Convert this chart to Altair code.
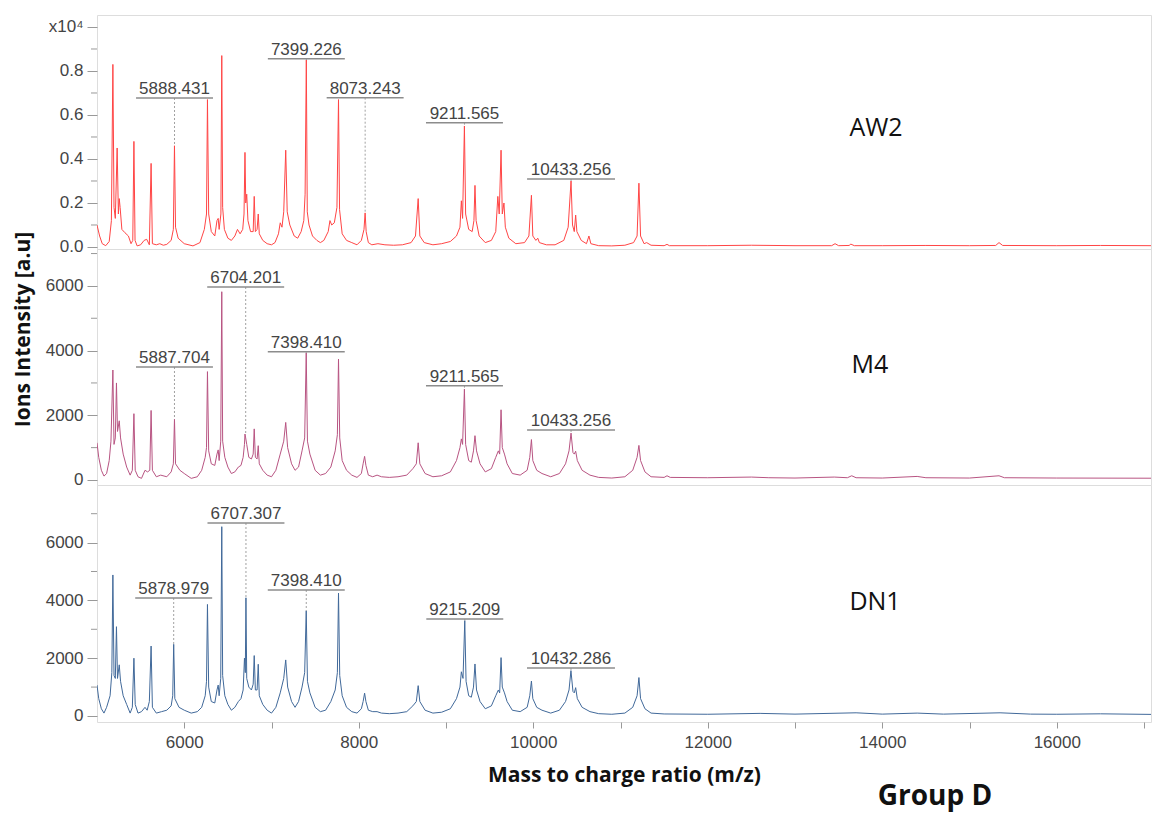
import altair as alt
import pandas as pd

# ---------------- data ----------------
X_DOMAIN = [5000, 17080]
X_TICKS = [6000, 7000, 8000, 9000, 10000, 11000, 12000, 13000, 14000, 15000, 16000, 17000]

# (m/z, intensity a.u.)
AW2_SPECTRUM = [
    (5000, 1000), (5030, 500), (5060, 150), (5100, 60), (5140, 250), (5165, 1200), (5182, 8300),
    (5195, 1800), (5210, 1300), (5231, 4500), (5245, 1500), (5255, 2200), (5265, 1800), (5285, 800),
    (5320, 650), (5360, 500), (5390, 150), (5410, 300), (5423, 4800), (5436, 300), (5460, 50),
    (5500, 100), (5540, 300), (5570, 350), (5600, 100), (5620, 3800), (5635, 150), (5680, 100),
    (5720, 150), (5760, 80), (5800, 120), (5850, 300), (5875, 800), (5888, 4600), (5900, 900),
    (5930, 400), (6000, 150), (6100, 50), (6180, 200), (6230, 800), (6255, 1500), (6266, 6700),
    (6280, 1500), (6310, 700), (6350, 500), (6375, 1200), (6389, 1300), (6400, 800), (6420, 1500),
    (6430, 8700), (6440, 1800), (6460, 800), (6500, 400), (6540, 300), (6580, 500), (6610, 800),
    (6640, 600), (6670, 800), (6685, 1500), (6696, 4300), (6705, 2000), (6716, 2400), (6730, 1200),
    (6760, 700), (6790, 700), (6802, 2300), (6815, 700), (6835, 800), (6848, 1500), (6860, 600),
    (6900, 300), (6950, 150), (7000, 100), (7040, 200), (7080, 600), (7100, 1100), (7120, 900),
    (7140, 1600), (7163, 4400), (7180, 1600), (7210, 1000), (7260, 500), (7300, 400), (7340, 700),
    (7370, 1200), (7385, 2400), (7399, 8500), (7410, 1600), (7430, 1000), (7470, 500), (7520, 300),
    (7560, 200), (7600, 300), (7650, 700), (7670, 1200), (7690, 1000), (7720, 1100), (7750, 1800),
    (7768, 6700), (7780, 1700), (7810, 600), (7860, 300), (7920, 200), (7980, 100), (8030, 300),
    (8060, 800), (8073, 1550), (8085, 700), (8110, 200), (8150, 100), (8220, 150), (8300, 100),
    (8400, 80), (8500, 100), (8600, 200), (8650, 500), (8681, 2200), (8700, 500), (8750, 200),
    (8850, 100), (8950, 150), (9050, 250), (9120, 500), (9160, 900), (9176, 2100), (9190, 1300),
    (9211, 5500), (9225, 1500), (9260, 800), (9300, 700), (9320, 1200), (9332, 2800), (9345, 1200),
    (9380, 500), (9450, 200), (9520, 300), (9570, 700), (9594, 2300), (9610, 1500), (9631, 4400),
    (9645, 1500), (9664, 2000), (9680, 900), (9720, 400), (9800, 150), (9900, 200), (9950, 500),
    (9979, 2350), (9995, 500), (10030, 300), (10052, 400), (10070, 200), (10150, 100), (10250, 100),
    (10350, 300), (10400, 900), (10433, 3000), (10450, 1000), (10470, 700), (10486, 1450),
    (10500, 700), (10550, 300), (10610, 150), (10638, 500), (10660, 150), (10750, 60), (10900, 50),
    (11050, 80), (11150, 200), (11190, 500), (11211, 2900), (11230, 500), (11270, 150), (11300, 200),
    (11350, 80), (11500, 60), (11533, 120), (11560, 60), (12000, 60), (12500, 80), (13000, 60),
    (13420, 60), (13459, 150), (13500, 60), (13620, 70), (13640, 130), (13680, 60), (14000, 60),
    (14500, 70), (15000, 60), (15300, 70), (15338, 200), (15380, 70), (16000, 60), (16500, 70),
    (17080, 60),
]

M4_SPECTRUM = [
    (5000, 1150), (5020, 700), (5050, 300), (5080, 120), (5110, 200), (5140, 600), (5160, 1200),
    (5182, 3400), (5195, 1100), (5210, 1300), (5223, 3000), (5235, 1500), (5255, 1830), (5270, 1300),
    (5300, 800), (5340, 400), (5380, 150), (5405, 300), (5423, 2050), (5438, 300), (5470, 100),
    (5510, 50), (5550, 300), (5580, 250), (5605, 300), (5620, 2150), (5635, 300), (5680, 100),
    (5730, 150), (5800, 100), (5850, 250), (5875, 500), (5888, 1880), (5900, 500), (5950, 300),
    (6000, 200), (6080, 50), (6150, 100), (6200, 300), (6240, 700), (6255, 1000), (6266, 3350),
    (6280, 900), (6310, 500), (6350, 450), (6375, 800), (6389, 930), (6400, 600), (6418, 1200),
    (6430, 5820), (6440, 1200), (6465, 700), (6500, 400), (6540, 200), (6580, 250), (6620, 400),
    (6650, 450), (6675, 700), (6690, 1100), (6696, 1420), (6704, 1300), (6716, 1100), (6740, 700),
    (6770, 650), (6790, 800), (6802, 1580), (6815, 700), (6835, 650), (6848, 1060), (6860, 500),
    (6900, 300), (6950, 150), (7000, 100), (7050, 300), (7100, 800), (7140, 1200), (7163, 1780),
    (7185, 1000), (7230, 500), (7270, 300), (7310, 400), (7350, 900), (7380, 1300), (7398, 3930),
    (7412, 1200), (7440, 800), (7500, 300), (7560, 150), (7620, 200), (7680, 400), (7730, 900),
    (7755, 1400), (7768, 3740), (7782, 1300), (7810, 600), (7860, 300), (7920, 150), (7980, 80),
    (8030, 200), (8050, 500), (8067, 730), (8082, 450), (8110, 150), (8160, 100), (8210, 150),
    (8260, 100), (8350, 80), (8450, 100), (8550, 150), (8620, 350), (8660, 500), (8681, 1150),
    (8700, 500), (8760, 200), (8850, 100), (8950, 130), (9050, 250), (9120, 600), (9160, 1000),
    (9176, 1270), (9190, 1100), (9211, 2810), (9225, 1100), (9260, 600), (9290, 550), (9315, 900),
    (9332, 1370), (9350, 900), (9390, 500), (9450, 250), (9520, 350), (9570, 700), (9600, 900),
    (9615, 800), (9631, 2170), (9645, 1000), (9670, 800), (9700, 500), (9760, 200), (9850, 150),
    (9930, 300), (9960, 700), (9979, 1250), (9995, 600), (10040, 300), (10100, 200), (10200, 100),
    (10300, 200), (10370, 500), (10410, 900), (10433, 1450), (10455, 850), (10470, 800),
    (10486, 890), (10505, 600), (10560, 300), (10650, 150), (10750, 80), (10900, 60), (11050, 100),
    (11140, 300), (11190, 700), (11211, 1070), (11230, 600), (11280, 250), (11350, 100),
    (11500, 80), (11533, 130), (11570, 80), (12000, 70), (12500, 90), (12700, 70), (13000, 60),
    (13450, 90), (13600, 70), (13650, 130), (13700, 70), (14000, 60), (14400, 110), (14500, 70),
    (15000, 60), (15338, 130), (15400, 70), (16000, 60), (17080, 55),
]

DN1_SPECTRUM = [
    (5000, 1070), (5020, 600), (5050, 250), (5080, 100), (5110, 300), (5150, 700), (5170, 1500),
    (5182, 4880), (5195, 1400), (5210, 1300), (5223, 3090), (5235, 1300), (5255, 1770), (5270, 1200),
    (5300, 700), (5340, 400), (5380, 100), (5405, 300), (5423, 2000), (5438, 400), (5470, 100),
    (5510, 150), (5550, 300), (5575, 200), (5600, 500), (5620, 2420), (5635, 300), (5680, 100),
    (5740, 150), (5800, 200), (5850, 350), (5868, 700), (5879, 2480), (5892, 600), (5940, 300),
    (6000, 200), (6080, 100), (6150, 150), (6200, 300), (6240, 700), (6255, 1200), (6266, 3860),
    (6280, 1000), (6310, 500), (6350, 450), (6375, 900), (6389, 1070), (6400, 700), (6418, 1300),
    (6430, 6550), (6440, 1400), (6465, 700), (6500, 400), (6540, 200), (6580, 300), (6620, 500),
    (6650, 600), (6675, 900), (6690, 2000), (6700, 1500), (6707, 4090), (6716, 1300), (6740, 1000),
    (6770, 900), (6790, 1100), (6802, 2090), (6815, 900), (6835, 900), (6848, 1790), (6860, 700),
    (6900, 400), (6950, 200), (7000, 100), (7050, 300), (7100, 800), (7140, 1300), (7163, 1940),
    (7185, 1000), (7230, 500), (7270, 300), (7310, 500), (7350, 1000), (7380, 1500), (7398, 3640),
    (7412, 1200), (7440, 800), (7500, 300), (7560, 150), (7620, 200), (7680, 500), (7730, 900),
    (7755, 1500), (7768, 4250), (7782, 1400), (7810, 700), (7860, 300), (7920, 150), (7980, 100),
    (8030, 250), (8050, 500), (8067, 790), (8082, 500), (8110, 200), (8160, 150), (8210, 150),
    (8260, 100), (8350, 80), (8450, 100), (8550, 150), (8620, 350), (8660, 500), (8681, 1050),
    (8700, 500), (8760, 200), (8850, 100), (8950, 130), (9050, 250), (9120, 600), (9160, 1000),
    (9176, 1530), (9195, 1300), (9215, 3300), (9230, 1200), (9260, 700), (9290, 650), (9315, 1000),
    (9332, 1800), (9350, 900), (9390, 500), (9450, 250), (9520, 350), (9570, 700), (9600, 900),
    (9615, 800), (9631, 2020), (9645, 1000), (9670, 800), (9700, 500), (9760, 200), (9850, 150),
    (9930, 300), (9960, 700), (9979, 1210), (9995, 600), (10040, 300), (10100, 200), (10200, 100),
    (10300, 200), (10370, 500), (10410, 900), (10432, 1570), (10455, 850), (10470, 800),
    (10486, 980), (10505, 600), (10560, 300), (10650, 150), (10750, 80), (10900, 60), (11050, 100),
    (11140, 300), (11190, 700), (11211, 1330), (11230, 600), (11280, 250), (11350, 100),
    (11500, 70), (12000, 60), (12600, 90), (13000, 65), (13700, 110), (14000, 65), (14400, 100),
    (14700, 65), (15350, 110), (15700, 65), (16000, 60), (16500, 75), (17080, 55),
]

# peak annotations: position, text, underline level, top of the marked peak
AW2_ANN_MZ = [5888.431, 7399.226, 8073.243, 9211.565, 10433.256]
AW2_ANN_TEXT = ["5888.431", "7399.226", "8073.243", "9211.565", "10433.256"]
AW2_ANN_Y = [6773, 8559, 6786, 5650, 3091]
AW2_ANN_PEAK = [4600, 8500, 1550, 5500, 3000]

M4_ANN_MZ = [5887.704, 6704.201, 7398.410, 9211.565, 10433.256]
M4_ANN_TEXT = ["5887.704", "6704.201", "7398.410", "9211.565", "10433.256"]
M4_ANN_Y = [3493, 5966, 3966, 2915, 1546]
M4_ANN_PEAK = [1880, 1400, 3930, 2810, 1450]

DN1_ANN_MZ = [5878.979, 6707.307, 7398.410, 9215.209, 10432.286]
DN1_ANN_TEXT = ["5878.979", "6707.307", "7398.410", "9215.209", "10432.286"]
DN1_ANN_Y = [4083, 6678, 4360, 3356, 1661]
DN1_ANN_PEAK = [2480, 4090, 3640, 3300, 1570]

AW2_MAJOR = [0, 2000, 4000, 6000, 8000, 10000]
AW2_MINOR = [1000, 3000, 5000, 7000, 9000]
M4_MAJOR = [0, 2000, 4000, 6000]
M4_MINOR = [1000, 3000, 5000, 7000]
DN1_MAJOR = [0, 2000, 4000, 6000]
DN1_MINOR = [1000, 3000, 5000, 7000]

# ---------------- chart ----------------
FONT = "Liberation Sans"
TITLE_FONT = "Open Sans"
PLOT_W = 1054
AXIS_GREY = "#999999"


def panel(points, color, ann, sample, sample_xy, ydomain, height, major, minor,
          label_expr, xaxis, ytitle, extra=None):
    df = pd.DataFrame(points, columns=["mz", "intensity"])
    adf = pd.DataFrame({"mz": ann[0], "label": ann[1], "label_y": ann[2], "peak_y": ann[3]})
    mdf = pd.DataFrame({"v": minor})
    xs = alt.Scale(domain=X_DOMAIN, nice=False, zero=False)
    ys = alt.Scale(domain=ydomain, nice=False, zero=False)
    ykw = dict(values=major, labelExpr=label_expr, tickSize=10, tickColor=AXIS_GREY,
               domain=False, grid=False, labelFont=FONT, labelFontSize=17,
               labelColor="#444444", labelPadding=4)
    if ytitle:
        ykw.update(title=ytitle, titleFont=TITLE_FONT, titleFontSize=21, titleFontWeight="bold",
                   titleColor="#111111", titlePadding=12, titleY=80)
    else:
        ykw.update(title=None)
    yaxis = alt.Axis(**ykw)

    def X(field):
        return alt.X(field, type="quantitative", scale=xs, axis=xaxis)

    def Y(field):
        return alt.Y(field, type="quantitative", scale=ys, axis=yaxis)

    line = alt.Chart(df).mark_line(color=color, strokeWidth=1, clip=True).encode(
        x=X("mz"), y=Y("intensity"))
    minor_ticks = alt.Chart(mdf).mark_rule(color=AXIS_GREY, strokeWidth=1).encode(
        y=Y("v"), x=alt.value(-6), x2=alt.value(0))
    dashed = alt.Chart(adf).mark_rule(color="#a0a0a0", strokeWidth=1, strokeDash=[2, 2]).encode(
        x=X("mz"), y=Y("label_y"), y2="peak_y")
    underline = alt.Chart(adf).transform_calculate(
        lo="datum.mz - 63 * (length(datum.label) - 1)",
        hi="datum.mz + 63 * (length(datum.label) - 1)",
    ).mark_rule(color="#8c8c8c", strokeWidth=1.5).encode(x=X("lo"), x2="hi", y=Y("label_y"))
    text = alt.Chart(adf).mark_text(font=FONT, fontSize=17, color="#444444",
                                    baseline="alphabetic", dy=-4).encode(
        x=X("mz"), y=Y("label_y"), text="label:N")
    name = alt.Chart(pd.DataFrame({"t": [sample]})).mark_text(
        font=TITLE_FONT, fontSize=25, color="#111111", baseline="middle").encode(
        x=alt.value(sample_xy[0]), y=alt.value(sample_xy[1]), text="t:N")
    layers = [line, minor_ticks, dashed, underline, text, name]
    if extra is not None:
        layers.append(extra)
    return alt.layer(*layers).properties(width=PLOT_W, height=height)


top_expr = "datum.value == 10000 ? 'x10\u2074' : format(datum.value / 10000, '.1f')"
int_expr = "format(datum.value, 'd')"

x_bottom = alt.Axis(values=X_TICKS,
                    labelExpr="datum.value % 2000 == 0 ? format(datum.value, 'd') : ''",
                    tickSize=6, tickColor=AXIS_GREY, domain=False, grid=False,
                    labelFont=FONT, labelFontSize=17, labelColor="#444444", labelPadding=6,
                    title="Mass to charge ratio (m/z)", titleFont=TITLE_FONT, titleFontSize=21,
                    titleFontWeight="bold", titleColor="#111111", titlePadding=14)

group_label = alt.Chart(pd.DataFrame({"t": ["Group D"]})).mark_text(
    font=TITLE_FONT, fontSize=28, fontWeight="bold", color="#111111", baseline="middle").encode(
    x=alt.value(838), y=alt.value(312), text="t:N")

top = panel(AW2_SPECTRUM, "#ff4545",
            (AW2_ANN_MZ, AW2_ANN_TEXT, AW2_ANN_Y, AW2_ANN_PEAK),
            "AW2", (779, 113), [-91, 10545], 234, AW2_MAJOR, AW2_MINOR, top_expr, None, None)
mid = panel(M4_SPECTRUM, "#b85482",
            (M4_ANN_MZ, M4_ANN_TEXT, M4_ANN_Y, M4_ANN_PEAK),
            "M4", (773, 116), [-155, 7141], 236, M4_MAJOR, M4_MINOR, int_expr, None,
            "Ions Intensity [a.u]")
bot = panel(DN1_SPECTRUM, "#41699a",
            (DN1_ANN_MZ, DN1_ANN_TEXT, DN1_ANN_Y, DN1_ANN_PEAK),
            "DN1", (778, 117), [-208, 7993], 237, DN1_MAJOR, DN1_MINOR, int_expr, x_bottom,
            None, extra=group_label)

chart = alt.vconcat(top, mid, bot, spacing=0, bounds="flush").properties(
    padding={"left": 11, "top": 14, "right": 0, "bottom": 0},
).configure_view(stroke="#aaaaaa", strokeWidth=1).configure(background="white")

chart.save("out.html", embed_options={"renderer": "svg", "actions": False})
